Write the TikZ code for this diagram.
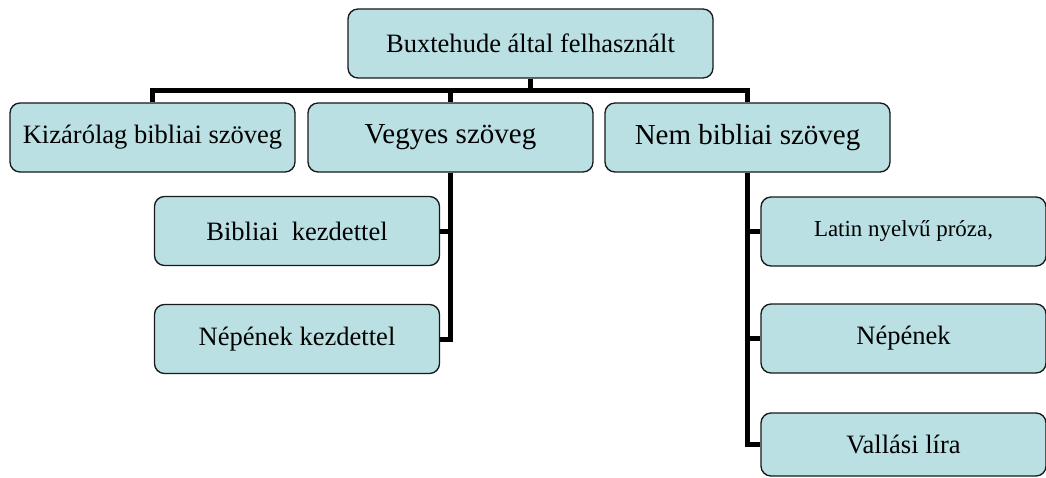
\documentclass[tikz,border=0pt]{standalone}
\usepackage{fontspec}
\setmainfont{Liberation Serif}
\usetikzlibrary{backgrounds}
\definecolor{boxfill}{RGB}{186,224,227}
\definecolor{boxline}{RGB}{25,25,25}
\tikzset{
  box/.style={draw=boxline, fill=boxfill, line width=1pt, rounded corners=7.5pt,
    minimum width=213.75pt, minimum height=51.75pt, inner sep=0pt, align=center,
    font=\fontsize{19.9}{24}\selectfont},
  bigtxt/.style={font=\fontsize{21.75}{26}\selectfont},
  smalltxt/.style={font=\fontsize{17.2}{21}\selectfont},
  conn/.style={draw=black, line width=3.75pt, line join=miter}
}
\begin{document}
\begin{tikzpicture}[x=0.75pt,y=-0.75pt]
\useasboundingbox (0,0) rectangle (1046,478);
\node[box, minimum width=273.75pt] (top) at (530.5,43.5) {Buxtehude által felhasznált};
\node[box] (kiz) at (152.5,137.5) {Kizárólag bibliai szöveg};
\node[box, bigtxt] (veg) at (450.5,137.5) {Vegyes szöveg};
\node[box, bigtxt] (nem) at (747.5,137.5) {Nem bibliai szöveg};
\node[box] (bib) at (297,231) {Bibliai\ \ kezdettel};
\node[box] (nep1) at (297,339) {Népének kezdettel};
\node[box, smalltxt] (lat) at (903.5,231.5) {Latin nyelvű próza,};
\node[box] (nep2) at (903.5,338.5) {Népének};
\node[box, minimum height=47.25pt] (val) at (903.5,444.5) {Vallási líra};
\coordinate (bar) at (0,91);
\begin{scope}[on background layer]
\draw[conn] (top.south) -- (top.south |- bar) -| (kiz.north);
\draw[conn] (top.south |- bar) -| (veg.north);
\draw[conn] (top.south |- bar) -| (nem.north);
\draw[conn] (veg.south) |- (bib.east);
\draw[conn] (veg.south) |- (nep1.east);
\draw[conn] (nem.south) |- (lat.west);
\draw[conn] (nem.south) |- (nep2.west);
\draw[conn] (nem.south) |- (val.west);
\end{scope}
\end{tikzpicture}
\end{document}
